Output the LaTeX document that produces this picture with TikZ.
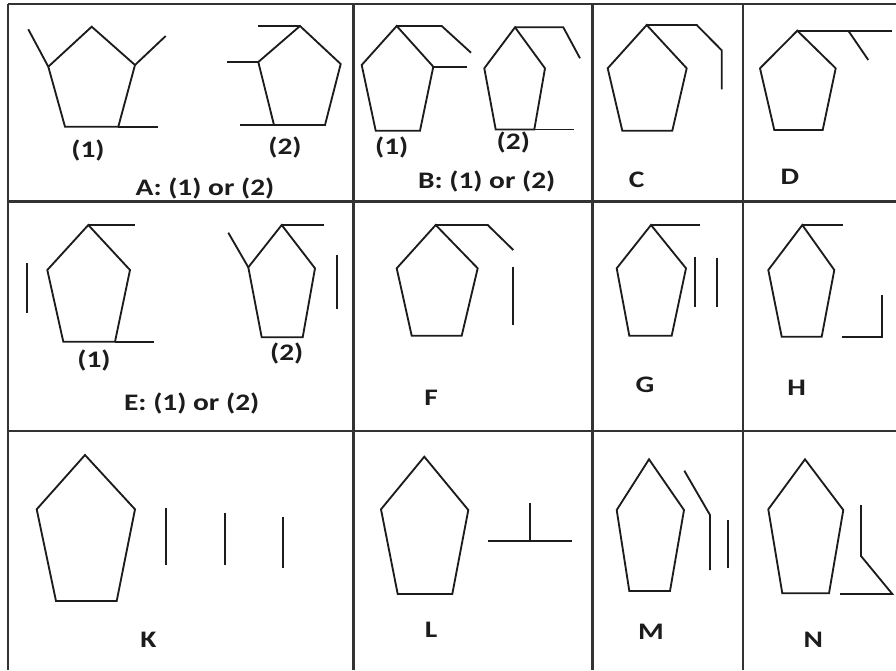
\documentclass[tikz,border=0pt]{standalone}
\usepackage{fontspec}
\setmainfont{Carlito}
\newfontfamily\labfont{Carlito}[FakeStretch=1.24]
\usetikzlibrary{calc}

\definecolor{inkdark}{HTML}{1C1C1C}
\definecolor{gridgray}{HTML}{333333}

% five corners of a ring: name, top, upper left, upper right, lower left, lower right
\newcommand{\pent}[6]{%
  \coordinate (#1-t) at #2;
  \coordinate (#1-ul) at #3;
  \coordinate (#1-ur) at #4;
  \coordinate (#1-ll) at #5;
  \coordinate (#1-lr) at #6;
  \draw[ring] (#1-t) -- (#1-ur) -- (#1-lr) -- (#1-ll) -- (#1-ul) -- cycle;}

\begin{document}
\begin{tikzpicture}[
  x=0.02cm, y=-0.02cm,
  ring/.style={draw=inkdark, line width=1.05pt, line join=miter},
  gridline/.style={draw=gridgray, line width=1.4pt},
  lbl/.style={inner sep=0pt, text=inkdark, font=\labfont\bfseries\fontsize{13.5}{15}\selectfont},
  ]
  \useasboundingbox[fill=white] (0,0) rectangle (896,670);

  % Table grid
  \draw[gridline] (8,4) -- (896,4);
  \draw[gridline] (8,201.5) -- (896,201.5);
  \draw[gridline] (8,431) -- (896,431);
  \draw[gridline] (8,4) -- (8,670);
  \draw[gridline] (353.5,4) -- (353.5,670);
  \draw[gridline] (592.5,4) -- (592.5,670);
  \draw[gridline] (743,4) -- (743,670);

  % Panel A
  \pent{A1}{(91.7,26.7)}{(48.3,66.7)}{(135,65)}{(65,126.7)}{(118.3,126.7)}
  \draw[ring] (A1-ul) -- ++(-20,-37.4);
  \draw[ring] (A1-ur) -- ++(30.7,-29);
  \draw[ring] (A1-lr) -- ++(40,0);
  \pent{A2}{(300,26)}{(258.3,62)}{(340.7,64)}{(274,125)}{(325,125)}
  \draw[ring] (A2-t) -- ++(-42,0);
  \draw[ring] (A2-ul) -- ++(-31.6,0);
  \draw[ring] (A2-ll) -- ++(-34,0);
  \node[lbl] (A1lab) at (88,150) {(1)};
  \node[lbl] (A2lab) at (285,147) {(2)};
  \node[lbl] (Alab) at (205,188) {A: (1) or (2)};

  % Panel B
  \pent{B1}{(396.7,26)}{(361.7,65)}{(433.3,66.7)}{(375.7,130.7)}{(420,130.7)}
  \draw[ring] (B1-t) -- ++(45,0) -- ++(29.3,26.7);
  \draw[ring] (B1-ur) -- ++(33.4,0);
  \pent{B2}{(515,27.3)}{(484.3,68.3)}{(545,68.3)}{(495.7,129.5)}{(534.3,129.5)}
  \draw[ring] (B2-t) -- ++(48.3,0) -- ++(16.7,31);
  \draw[ring] (B2-lr) -- ++(40,0);
  \node[lbl] (B1lab) at (391.7,147.5) {(1)};
  \node[lbl] (B2lab) at (513.3,142) {(2)};
  \node[lbl] (Blab) at (486.7,181.7) {B: (1) or (2)};

  % Panel C
  \pent{C}{(646.7,25)}{(607.7,68.3)}{(686.7,68.3)}{(622.3,130.7)}{(672.3,130.7)}
  \draw[ring] (C-t) -- ++(50,0) -- ++(25,25.3) -- ++(0,39);
  \node[lbl] (Clab) at (636.7,180) {C};

  % Panel D
  \pent{D}{(797.3,30.7)}{(760,68.3)}{(835.7,68.3)}{(774.3,130)}{(822.7,130)}
  \draw[ring] (D-t) -- ++(95,0);
  \draw[ring] ($(D-t)+(51,0)$) -- ++(20,29.3);
  \node[lbl] (Dlab) at (790,176.7) {D};

  % Panel E
  \pent{E1}{(88.3,225)}{(47.3,270)}{(130,270)}{(63.3,341.7)}{(115,341.7)}
  \draw[ring] (E1-t) -- ++(46.7,0);
  \draw[ring] (E1-lr) -- ++(39,0);
  \draw[ring] (26.7,263.3) -- (26.7,312.7);
  \pent{E2}{(281.7,225)}{(248.3,267.3)}{(315,268.3)}{(261.7,337.3)}{(302.7,337.3)}
  \draw[ring] (E2-t) -- ++(42.3,0);
  \draw[ring] (E2-ul) -- ++(-20,-34.6);
  \draw[ring] (336.7,255) -- (336.7,309);
  \node[lbl] (E1lab) at (94,360) {(1)};
  \node[lbl] (E2lab) at (286.7,353.3) {(2)};
  \node[lbl] (Elab) at (191.7,403.3) {E: (1) or (2)};

  % Panel F
  \pent{F}{(435.7,225)}{(396.7,268.3)}{(477.7,268.3)}{(411.7,335.7)}{(461.7,335.7)}
  \draw[ring] (F-t) -- ++(52,0) -- ++(25.6,25);
  \draw[ring] (512.7,267.3) -- (512.7,325);
  \node[lbl] (Flab) at (431,398.3) {F};

  % Panel G
  \pent{G}{(651,225)}{(616.7,268.3)}{(686,268.3)}{(629.3,335.7)}{(671.7,335.7)}
  \draw[ring] (G-t) -- ++(49,0);
  \draw[ring] (695,256.7) -- (695,307.3);
  \draw[ring] (717.3,258.3) -- (717.3,307.3);
  \node[lbl] (Glab) at (645,385) {G};

  % Panel H
  \pent{H}{(802.3,225)}{(768.3,270)}{(834.3,270)}{(781.7,336.7)}{(821.7,336.7)}
  \draw[ring] (H-t) -- ++(41,0);
  \draw[ring] (841.7,337.3) -- (881.7,337.3) -- (881.7,295);
  \node[lbl] (Hlab) at (796.7,388.3) {H};

  % Panel K
  \pent{K}{(85,455)}{(36.7,509.3)}{(135,509.3)}{(56,601)}{(116.7,601)}
  \draw[ring] (166,508.3) -- (166,565);
  \draw[ring] (225,512.7) -- (225,565);
  \draw[ring] (282.7,516.7) -- (282.7,568.3);
  \node[lbl] (Klab) at (148.3,640) {K};

  % Panel L
  \pent{L}{(424.3,456.7)}{(381,509.3)}{(468.3,510)}{(397.7,594)}{(452.3,594)}
  \draw[ring] (488.3,540.7) -- (572.3,540.7);
  \draw[ring] (530,540.7) -- (530,502.7);
  \node[lbl] (Llab) at (431,629.3) {L};

  % Panel M
  \pent{M}{(649,459.3)}{(616.7,510)}{(684,510)}{(629.3,591)}{(670,591)}
  \draw[ring] (684.3,470.7) -- (710,515) -- (710,570);
  \draw[ring] (728.3,520) -- (728.3,568.3);
  \node[lbl] (Mlab) at (651,631.7) {M};

  % Panel N
  \pent{N}{(805,459.3)}{(768.3,509.3)}{(843.3,510)}{(782.3,593.3)}{(829,593.3)}
  \draw[ring] (861,505) -- (861,556) -- (892.3,594) -- (840,594);
  \node[lbl] (Nlab) at (813.3,640) {N};

\end{tikzpicture}
\end{document}
